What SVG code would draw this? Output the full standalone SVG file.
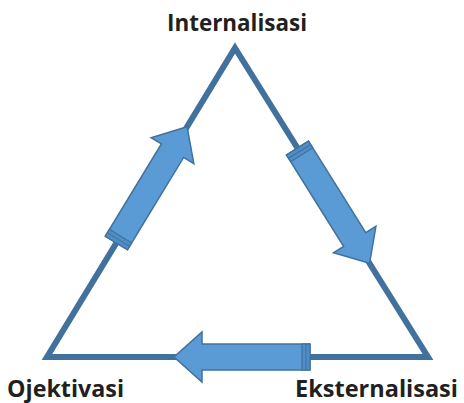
<svg xmlns="http://www.w3.org/2000/svg" width="464" height="403" viewBox="0 0 464 403">
<style>
.edge{fill:none;stroke:#41719C;stroke-width:6;stroke-linejoin:miter}
.arr{fill:#5B9BD5;stroke:#41719C;stroke-width:1.5;stroke-linejoin:miter}
.cap{fill:#4F8DC8;stroke:#41719C;stroke-width:1.2}
.lbl{font-family:"Open Sans","Liberation Sans",sans-serif;font-weight:bold;font-size:24px;fill:#221f20}
</style>
<defs>
<g id="blk">
<polygon class="arr" points="0,-13 108,-13 108,-25 136,0 108,25 108,13 0,13"/>
<rect class="cap" x="0" y="-13" width="8" height="26"/>
<line x1="4" y1="-13" x2="4" y2="13" stroke="#41719C" stroke-width="1"/>
</g>
</defs>
<g id="connectors">
<polygon class="edge" points="235,48 428,357 47,357"/>
<use href="#blk" transform="translate(116.4,243) rotate(-58.7)"/>
<use href="#blk" transform="translate(297.5,148) rotate(58)"/>
<use href="#blk" transform="translate(310,357) rotate(180)"/>
</g>
<g id="internalisasi"><text class="lbl" x="167" y="31" textLength="140" lengthAdjust="spacingAndGlyphs">Internalisasi</text></g>
<g id="ojektivasi"><text class="lbl" x="7" y="397" textLength="117" lengthAdjust="spacingAndGlyphs">Ojektivasi</text></g>
<g id="eksternalisasi"><text class="lbl" x="295" y="397" textLength="163" lengthAdjust="spacingAndGlyphs">Eksternalisasi</text></g>
</svg>
